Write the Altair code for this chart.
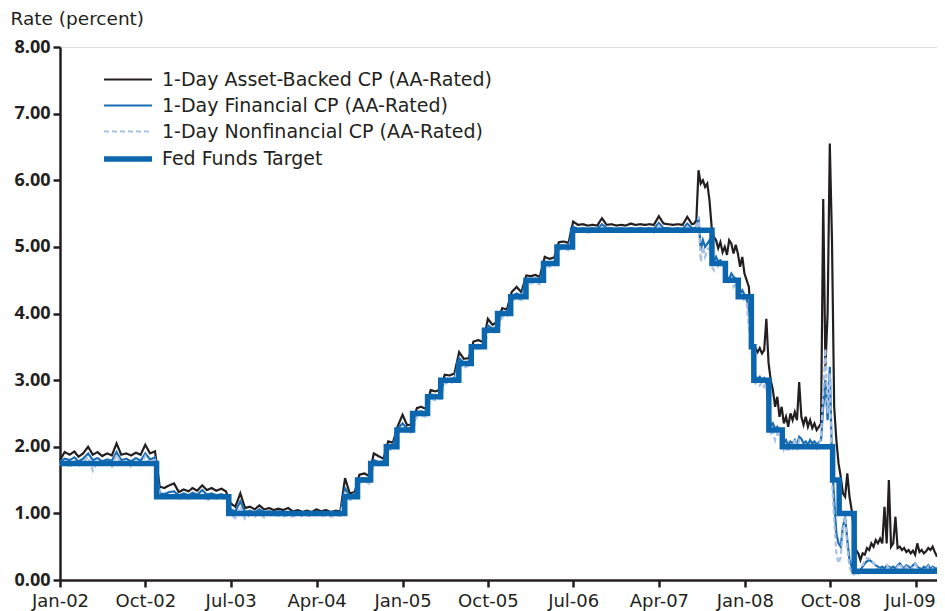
import altair as alt
import pandas as pd

# ---------------- data ----------------
series_names = [
    "1-Day Asset-Backed CP (AA-Rated)",
    "1-Day Financial CP (AA-Rated)",
    "1-Day Nonfinancial CP (AA-Rated)",
    "Fed Funds Target",
]

# Fed funds target (step changes)
fed_dates = ["2002-01-01", "2002-11-06", "2003-06-25", "2004-06-30", "2004-08-10",
             "2004-09-21", "2004-11-10", "2004-12-14", "2005-02-02", "2005-03-22",
             "2005-05-03", "2005-06-30", "2005-08-09", "2005-09-20", "2005-11-01",
             "2005-12-13", "2006-01-31", "2006-03-28", "2006-05-10", "2006-06-29",
             "2007-09-18", "2007-10-31", "2007-12-11", "2008-01-22", "2008-01-30",
             "2008-03-18", "2008-04-30", "2008-10-08", "2008-10-29", "2008-12-16",
             "2009-09-07"]
fed_rates = [1.75, 1.25, 1.00, 1.25, 1.50, 1.75, 2.00, 2.25, 2.50, 2.75,
             3.00, 3.25, 3.50, 3.75, 4.00, 4.25, 4.50, 4.75, 5.00, 5.25,
             4.75, 4.50, 4.25, 3.50, 3.00, 2.25, 2.00, 1.50, 1.00, 0.13,
             0.13]

# semi-monthly sample dates 2002-01-01 .. 2007-07-16, then weekly 2007-07-23 .. 2009-09-07
semi_dates = [f"{y}-{m:02d}-{d:02d}" for y in range(2002, 2008) for m in range(1, 13) for d in (1, 16)]
semi_dates = semi_dates[:134]
weekly_dates = [d.strftime("%Y-%m-%d") for d in pd.date_range("2007-07-23", "2009-09-07", freq="7D")]

abcp_2002 = [1.80, 1.92, 1.88, 1.93, 1.85, 1.90, 2.00, 1.88, 1.92, 1.86, 1.90, 1.87,
             2.05, 1.88, 1.90, 1.87, 1.91, 1.88, 2.03, 1.90, 1.93, 1.40, 1.38, 1.42]
abcp_2003 = [1.45, 1.32, 1.36, 1.33, 1.38, 1.34, 1.42, 1.35, 1.38, 1.34, 1.37, 1.33,
             1.15, 1.10, 1.30, 1.08, 1.10, 1.06, 1.12, 1.06, 1.08, 1.05, 1.07, 1.05]
abcp_2004 = [1.08, 1.03, 1.05, 1.02, 1.04, 1.02, 1.06, 1.03, 1.05, 1.02, 1.04, 1.03,
             1.53, 1.30, 1.32, 1.58, 1.60, 1.56, 1.90, 1.86, 1.82, 2.08, 2.06, 2.30]
abcp_2005 = [2.48, 2.32, 2.34, 2.58, 2.60, 2.57, 2.85, 2.83, 2.86, 3.08, 3.07, 3.10,
             3.42, 3.32, 3.33, 3.58, 3.60, 3.57, 3.92, 3.83, 3.88, 4.08, 4.06, 4.32]
abcp_2006 = [4.40, 4.32, 4.57, 4.56, 4.58, 4.55, 4.85, 4.82, 4.84, 5.07, 5.08, 5.06,
             5.38, 5.33, 5.34, 5.32, 5.33, 5.32, 5.43, 5.33, 5.34, 5.32, 5.33, 5.32]
abcp_2007h = [5.35, 5.33, 5.34, 5.33, 5.34, 5.33, 5.46, 5.35, 5.34, 5.33, 5.34, 5.33, 5.45, 5.34]
abcp_crisis = [5.35, 5.40, 6.15, 5.95, 6.00, 5.90, 5.95, 5.70, 5.30, 5.15,
               5.10, 4.98, 5.07, 4.92, 5.00, 4.88, 5.10, 5.05, 4.90, 5.03,
               4.90, 4.70, 4.85, 4.60, 4.50, 4.40, 3.90, 3.45, 3.48, 3.42,
               3.48, 3.40, 3.45, 3.92, 3.26, 3.00, 2.85, 2.60, 2.75, 2.45,
               2.60, 2.35, 2.45, 2.30, 2.50, 2.40, 2.52, 2.40, 2.97, 2.45,
               2.33, 2.45, 2.30, 2.40, 2.28, 2.35, 2.25, 2.30, 2.35, 5.72,
               3.20, 4.00, 6.55, 5.10, 2.60, 2.10, 1.75, 1.55, 1.30, 1.25,
               1.60, 1.25, 1.05, 0.75, 0.45, 0.40, 0.30, 0.40, 0.38, 0.48,
               0.45, 0.55, 0.50, 0.60, 0.55, 0.62, 0.55, 1.10, 0.55, 1.50,
               0.50, 0.55, 0.95, 0.48, 0.50, 0.45, 0.48, 0.42, 0.45, 0.40,
               0.44, 0.38, 0.55, 0.42, 0.45, 0.40, 0.43, 0.48, 0.45, 0.50, 0.42, 0.35]

fin_2002 = [1.78, 1.82, 1.80, 1.84, 1.78, 1.82, 1.90, 1.80, 1.83, 1.78, 1.81, 1.79,
            1.92, 1.80, 1.82, 1.78, 1.83, 1.79, 1.90, 1.81, 1.84, 1.30, 1.29, 1.32]
fin_2003 = [1.33, 1.27, 1.30, 1.27, 1.31, 1.28, 1.35, 1.28, 1.30, 1.27, 1.29, 1.26,
            1.06, 1.03, 1.18, 1.02, 1.04, 1.01, 1.06, 1.02, 1.03, 1.01, 1.03, 1.01]
fin_2004 = [1.02, 1.00, 1.01, 0.99, 1.01, 1.00, 1.02, 1.00, 1.01, 0.99, 1.01, 1.00,
            1.38, 1.26, 1.27, 1.52, 1.53, 1.51, 1.80, 1.77, 1.78, 2.02, 2.01, 2.27]
fin_2005 = [2.35, 2.27, 2.28, 2.52, 2.53, 2.51, 2.79, 2.77, 2.78, 3.02, 3.01, 3.03,
            3.33, 3.26, 3.27, 3.52, 3.53, 3.51, 3.82, 3.77, 3.80, 4.02, 4.01, 4.26]
fin_2006 = [4.30, 4.27, 4.52, 4.51, 4.52, 4.50, 4.78, 4.76, 4.77, 5.02, 5.02, 5.01,
            5.30, 5.27, 5.28, 5.27, 5.28, 5.27, 5.34, 5.28, 5.28, 5.27, 5.28, 5.27]
fin_2007h = [5.28, 5.27, 5.28, 5.27, 5.28, 5.27, 5.36, 5.28, 5.28, 5.27, 5.28, 5.27, 5.35, 5.28]
fin_crisis = [5.28, 5.30, 5.45, 4.95, 5.10, 5.00, 5.05, 5.10, 4.80, 4.78,
              4.85, 4.78, 4.80, 4.76, 4.75, 4.55, 4.52, 4.60, 4.55, 4.52,
              4.45, 4.30, 4.35, 4.28, 4.22, 4.05, 3.80, 3.10, 3.05, 3.02,
              3.05, 3.00, 3.03, 2.95, 2.60, 2.30, 2.35, 2.27, 2.30, 2.25,
              2.20, 2.05, 2.10, 2.02, 2.08, 2.05, 2.10, 2.03, 2.15, 2.12,
              2.05, 2.08, 2.03, 2.10, 2.05, 2.08, 2.03, 2.07, 2.10, 2.60,
              3.00, 2.40, 3.20, 1.80, 1.20, 0.70, 0.55, 0.50, 0.80, 0.95,
              0.60, 0.30, 0.20, 0.15, 0.12, 0.10, 0.15, 0.20, 0.25, 0.28,
              0.30, 0.28, 0.25, 0.22, 0.20, 0.18, 0.20, 0.17, 0.22, 0.20,
              0.18, 0.20, 0.17, 0.22, 0.25, 0.20, 0.18, 0.22, 0.20, 0.18,
              0.22, 0.25, 0.20, 0.18, 0.16, 0.20, 0.18, 0.22, 0.17, 0.20, 0.18, 0.17]

nonfin_2002 = [1.72, 1.78, 1.68, 1.80, 1.70, 1.76, 1.85, 1.64, 1.78, 1.72, 1.76, 1.70,
               1.88, 1.74, 1.78, 1.70, 1.77, 1.72, 1.86, 1.75, 1.80, 1.24, 1.22, 1.27]
nonfin_2003 = [1.28, 1.20, 1.26, 1.22, 1.27, 1.21, 1.30, 1.18, 1.26, 1.22, 1.24, 1.20,
               0.98, 0.93, 1.10, 0.92, 0.98, 0.95, 1.00, 0.94, 0.98, 0.96, 0.97, 0.95]
nonfin_2004 = [0.97, 0.95, 0.98, 0.96, 0.97, 0.95, 0.98, 0.96, 0.97, 0.95, 0.97, 0.96,
               1.30, 1.20, 1.22, 1.46, 1.48, 1.45, 1.74, 1.72, 1.72, 1.96, 1.95, 2.20]
nonfin_2005 = [2.28, 2.20, 2.22, 2.46, 2.47, 2.45, 2.72, 2.70, 2.72, 2.96, 2.95, 2.98,
               3.27, 3.18, 3.22, 3.45, 3.48, 3.46, 3.73, 3.70, 3.74, 3.95, 3.96, 4.20]
nonfin_2006 = [4.22, 4.20, 4.46, 4.45, 4.47, 4.44, 4.72, 4.70, 4.71, 4.96, 4.97, 4.95,
               5.26, 5.22, 5.24, 5.21, 5.23, 5.22, 5.30, 5.23, 5.24, 5.22, 5.23, 5.22]
nonfin_2007h = [5.24, 5.22, 5.23, 5.22, 5.24, 5.21, 5.32, 5.23, 5.24, 5.22, 5.23, 5.22, 5.30, 5.23]
nonfin_crisis = [5.24, 5.30, 5.45, 4.78, 5.00, 4.85, 4.95, 5.00, 4.70, 4.65,
                 4.80, 4.70, 4.75, 4.72, 4.70, 4.45, 4.48, 4.55, 4.40, 4.45,
                 4.35, 4.22, 4.25, 4.18, 4.15, 3.80, 3.60, 3.00, 2.95, 2.98,
                 2.92, 2.97, 2.90, 2.95, 2.55, 2.20, 2.22, 2.10, 2.20, 2.15,
                 2.12, 1.95, 2.00, 1.92, 2.05, 1.98, 2.12, 1.95, 2.10, 2.05,
                 1.97, 2.02, 1.95, 2.05, 1.98, 2.02, 1.97, 2.03, 2.15, 2.80,
                 3.47, 2.50, 3.10, 1.50, 0.90, 0.40, 0.25, 0.35, 0.75, 0.95,
                 0.50, 0.20, 0.10, 0.08, 0.10, 0.08, 0.12, 0.22, 0.30, 0.33,
                 0.32, 0.30, 0.25, 0.20, 0.15, 0.18, 0.13, 0.15, 0.22, 0.18,
                 0.14, 0.16, 0.13, 0.20, 0.25, 0.18, 0.15, 0.20, 0.17, 0.14,
                 0.20, 0.24, 0.18, 0.15, 0.13, 0.17, 0.15, 0.20, 0.14, 0.18, 0.15, 0.14]

y_ticks = [0, 1, 2, 3, 4, 5, 6, 7, 8]
x_tick_dates = [(2002, 1), (2002, 10), (2003, 7), (2004, 4), (2005, 1), (2005, 10),
                (2006, 7), (2007, 4), (2008, 1), (2008, 10), (2009, 7)]

# ---------------- build tables ----------------
cp_dates = semi_dates + weekly_dates
abcp = abcp_2002 + abcp_2003 + abcp_2004 + abcp_2005 + abcp_2006 + abcp_2007h + abcp_crisis
fin = fin_2002 + fin_2003 + fin_2004 + fin_2005 + fin_2006 + fin_2007h + fin_crisis
nonfin = nonfin_2002 + nonfin_2003 + nonfin_2004 + nonfin_2005 + nonfin_2006 + nonfin_2007h + nonfin_crisis
assert len(abcp) == len(cp_dates) == len(fin) == len(nonfin)

df_abcp = pd.DataFrame({"date": cp_dates, "rate": abcp, "series": series_names[0]})
df_fin = pd.DataFrame({"date": cp_dates, "rate": fin, "series": series_names[1]})
df_nonfin = pd.DataFrame({"date": cp_dates, "rate": nonfin, "series": series_names[2]})
df_fed = pd.DataFrame({"date": fed_dates, "rate": fed_rates, "series": series_names[3]})

# ---------------- styling ----------------
INK = "#231f20"
FONT = "DejaVu Sans"
colors = [INK, "#1c6db3", "#a7c2e6", "#0b66ae"]
dashes = [[1, 0], [1, 0], [5, 3], [1, 0]]
widths = [2.2, 2.2, 2.2, 5.5]

legend = alt.Legend(
    title=None, orient="none", legendX=53, legendY=19, padding=0,
    symbolType="M-2,0H2", symbolSize=576, labelFontSize=19, labelFont=FONT,
    labelColor=INK, rowPadding=2, labelOffset=19, labelLimit=500,
)
color_enc = alt.Color("series:N", scale=alt.Scale(type="ordinal", domain=series_names, range=colors), legend=legend)
dash_enc = alt.StrokeDash("series:N", scale=alt.Scale(type="ordinal", domain=series_names, range=dashes), legend=legend)
width_enc = alt.StrokeWidth("series:N", scale=alt.Scale(type="ordinal", domain=series_names, range=widths), legend=legend)

x_enc = alt.X(
    "date:T",
    scale=alt.Scale(type="utc", domain=[alt.DateTime(year=2002, month=1, date=1, utc=True),
                                        alt.DateTime(year=2009, month=9, date=7, utc=True)]),
    axis=alt.Axis(
        title=None, grid=False,
        values=[alt.DateTime(year=y, month=m, date=1, utc=True) for y, m in x_tick_dates],
        labelExpr="utcFormat(datum.value, '%b-%y')",
        labelFontSize=18, labelFont=FONT, labelColor=INK,
        labelPadding=5, tickSize=7, tickWidth=2.5, tickColor=INK,
        labelOffset={"condition": {"test": "datum.value > 1240000000000", "value": -6}, "value": 0},
        domainWidth=2.5, domainColor=INK, labelOverlap=False, labelFlush=False,
    ),
)
y_enc = alt.Y(
    "rate:Q",
    scale=alt.Scale(domain=[0, 8], nice=False),
    axis=alt.Axis(
        title="Rate (percent)", titleAngle=0, titleX=-50, titleY=-29,
        titleAlign="left", titleBaseline="middle", titleFontSize=18.5,
        titleFont=FONT, titleFontWeight="normal", titleColor=INK,
        grid=False, values=y_ticks, format=".2f",
        labelFontSize=18, labelFont="Open Sans", labelColor=INK, labelFontWeight="bold",
        labelPadding=3, tickSize=7, tickWidth=2.5, tickColor=INK,
        domainWidth=2.5, domainColor=INK,
    ),
)

def layer(df, interp="linear"):
    return alt.Chart(df).mark_line(interpolate=interp, strokeCap="butt", strokeJoin="miter").encode(
        x=x_enc, y=y_enc, color=color_enc, strokeDash=dash_enc, strokeWidth=width_enc
    )

chart = alt.layer(
    layer(df_abcp), layer(df_fin), layer(df_nonfin), layer(df_fed, "step-after")
).properties(
    width=877, height=533,
    autosize=alt.AutoSizeParams(type="none"),
    padding={"left": 52, "top": 39, "right": 0, "bottom": 36},
).configure_view(stroke=None).configure(background="white")

chart.save("out.html", embed_options={"renderer": "svg", "actions": False})
